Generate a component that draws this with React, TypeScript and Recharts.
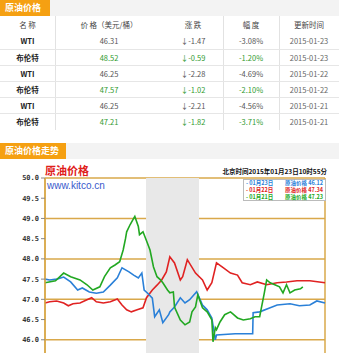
import React from 'react';
import { LineChart, Line, XAxis, YAxis, CartesianGrid, ReferenceArea } from 'recharts';

// table
const names = ['WTI', '布伦特', 'WTI', '布伦特', 'WTI', '布伦特'];
const prices = ['46.31', '48.52', '46.25', '47.57', '46.25', '47.21'];
const changes = ['↓-1.47', '↓-0.59', '↓-2.28', '↓-1.02', '↓-2.21', '↓-1.82'];
const pcts = ['-3.08%', '-1.20%', '-4.69%', '-2.10%', '-4.56%', '-3.71%'];
const dates = ['2015-01-23', '2015-01-23', '2015-01-22', '2015-01-22', '2015-01-21', '2015-01-21'];
const headers = ['名 称', '价 格（美元/桶）', '涨 跌', '幅 度', '更新时间'];

// chart (hours from start of window)
const hourTicks = [0, 1, 2, 3, 4, 5, 6, 7, 8, 9, 10, 11, 12];
const priceTicks = [46, 46.5, 47, 47.5, 48, 48.5, 49, 49.5, 50];

const blueTimes = [0, 0.2, 0.5, 0.8, 1.1, 1.4, 1.6, 1.9, 2.2, 2.5, 2.8, 3.1, 3.3, 3.6, 3.8, 4.0, 4.15, 4.25, 4.4, 4.6, 4.7, 4.9, 5.05, 5.3, 5.35, 5.55, 5.8, 6.0, 6.2, 6.5, 6.75, 6.95, 7.15, 7.3, 7.35, 8.15, 8.9, 8.92, 9.2, 9.65, 9.95, 10.5, 10.9, 11.35, 11.65, 12.0];
const blueValues = [47.5, 47.48, 47.5, 47.55, 47.43, 47.23, 47.28, 47.18, 47.15, 47.18, 47.35, 47.53, 47.78, 47.68, 47.6, 47.53, 47.65, 47.23, 47.15, 47.03, 46.57, 46.74, 46.42, 46.62, 46.69, 46.81, 47.04, 46.91, 46.99, 47.19, 46.86, 46.74, 46.54, 46.0, 46.12, 46.15, 46.15, 46.67, 46.69, 46.79, 46.86, 46.89, 46.84, 46.86, 46.96, 46.91];

const redTimes = [0, 0.2, 0.5, 0.8, 1.0, 1.2, 1.5, 1.8, 2.0, 2.2, 2.5, 2.8, 3.1, 3.3, 3.5, 3.7, 3.95, 4.2, 4.35, 4.6, 4.8, 5.0, 5.2, 5.35, 5.55, 5.8, 5.9, 6.1, 6.45, 6.75, 6.95, 7.15, 7.35, 7.65, 7.95, 8.25, 8.45, 8.8, 9.1, 9.5, 9.95, 10.35, 10.8, 11.35, 12.0];
const redValues = [46.91, 46.94, 46.96, 46.91, 46.84, 46.89, 46.91, 46.99, 47.04, 46.94, 46.91, 46.94, 47.01, 46.86, 46.74, 46.69, 46.74, 46.79, 47.04, 47.23, 47.35, 47.48, 47.68, 48.05, 47.9, 47.48, 47.56, 47.98, 47.65, 47.48, 47.23, 47.41, 47.9, 47.78, 47.65, 47.6, 47.41, 47.36, 47.43, 47.36, 47.41, 47.43, 47.46, 47.46, 47.41];

const greenTimes = [0, 0.45, 0.8, 1.1, 1.5, 1.8, 2.05, 2.35, 2.55, 2.8, 3.0, 3.2, 3.35, 3.45, 3.5, 3.65, 3.8, 3.85, 4.0, 4.05, 4.2, 4.35, 4.5, 4.65, 4.8, 4.95, 5.05, 5.25, 5.35, 5.5, 5.55, 5.8, 6.0, 6.2, 6.3, 6.45, 6.55, 6.75, 6.95, 7.15, 7.2, 7.3, 7.35, 7.5, 7.7, 7.95, 8.05, 8.25, 8.5, 8.8, 9.0, 9.2, 9.4, 9.5, 9.65, 9.85, 10.05, 10.2, 10.35, 10.5, 10.7, 10.95, 11.05];
const greenValues = [47.41, 47.46, 47.65, 47.56, 47.48, 47.36, 47.23, 47.31, 47.56, 47.78, 47.85, 47.93, 48.22, 48.5, 48.67, 48.85, 49.0, 49.05, 48.8, 48.6, 48.67, 48.45, 48.22, 47.8, 47.56, 47.48, 47.41, 47.23, 47.16, 47.18, 46.81, 46.49, 46.37, 46.44, 46.69, 46.81, 47.11, 46.79, 46.69, 46.49, 45.95, 46.3, 46.25, 46.44, 46.62, 46.69, 46.64, 46.54, 46.49, 46.52, 46.57, 46.57, 47.16, 47.48, 47.41, 47.36, 47.31, 47.16, 47.36, 47.16, 47.23, 47.26, 47.31];

const legendDates = ['01月23日', '01月22日', '01月21日'];
const legendNames = ['原油价格', '原油价格', '原油价格'];
const legendValues = ['46.12', '47.34', '47.23'];
const colors = ['#2a80d8', '#e02222', '#22a822'];

const toRows = (ts: number[], vs: number[]) => ts.map((t, i) => ({ t, v: vs[i] }));
const blue = toRows(blueTimes, blueValues);
const red = toRows(redTimes, redValues);
const green = toRows(greenTimes, greenValues);

const cjk = '"Noto Sans CJK SC", "DejaVu Sans", sans-serif';
const colX = [0, 55, 163, 223, 279, 339];

function SectionBar({ top, title, w }: { top: number; title: string; w: number }) {
  return (
    <div style={{ position: 'absolute', left: 0, top, width: 339, height: 16, background: '#f3f3f3' }}>
      <div style={{ width: w, height: 16, background: '#f5a012', color: '#fff', fontSize: 9, fontWeight: 'bold',
        lineHeight: '16px', paddingLeft: 5, boxSizing: 'border-box', fontFamily: cjk }}>{title}</div>
    </div>
  );
}

function LegendBox() {
  return (
    <div style={{ position: 'absolute', left: 243, top: 19, width: 83, height: 22, boxSizing: 'border-box', background: '#fff',
      border: '1px solid #bbb', padding: '0 2px', fontFamily: cjk, fontSize: 5.5, lineHeight: '7px', fontWeight: 'bold' }}>
      {legendDates.map((d, i) => (
        <div key={i} style={{ color: colors[i], whiteSpace: 'nowrap', display: 'flex', justifyContent: 'space-between' }}>
          <span>- {d}</span><span>{legendNames[i]} {legendValues[i]}</span>
        </div>
      ))}
    </div>
  );
}

export default function App() {
  const cell = (c: number, txt: string, color: string, bold = false) => (
    <div style={{ position: 'absolute', left: colX[c], width: colX[c + 1] - colX[c], textAlign: 'center', color,
      fontWeight: bold ? 'bold' : 'normal' }}>{txt}</div>
  );
  return (
    <div style={{ position: 'absolute', left: 0, top: 0, width: 339, height: 353, overflow: 'hidden', background: '#fff', fontFamily: cjk }}>
      <SectionBar top={0} title="原油价格" w={50} />
      <div style={{ position: 'absolute', left: 0, top: 16, width: 339, height: 114, fontSize: 7.5 }}>
        {[55, 223, 279].map((x) => (
          <div key={x} style={{ position: 'absolute', left: x, top: 0, width: 1, height: 114, background: '#e2e2e2' }} />
        ))}
        <div style={{ position: 'absolute', top: 3, left: 0, width: 339, height: 12, lineHeight: '12px' }}>
          {headers.map((h, i) => <React.Fragment key={i}>{cell(i, h, '#444')}</React.Fragment>)}
        </div>
        {names.map((n, r) => {
          const g = r % 2 === 1;
          const c = g ? '#2f9a2f' : '#555';
          return (
            <div key={r} style={{ position: 'absolute', top: 17 + r * 16, left: 0, width: 339, height: 16, lineHeight: '16px',
              borderTop: r > 0 ? '1px solid #e6e6e6' : 'none', boxSizing: 'border-box' }}>
              {cell(0, n, '#222', true)}
              {cell(1, prices[r], c)}
              {cell(2, changes[r], c)}
              {cell(3, pcts[r], c)}
              {cell(4, dates[r], '#666')}
            </div>
          );
        })}
      </div>
      <SectionBar top={143} title="原油价格走势" w={66} />
      <div style={{ position: 'absolute', left: 0, top: 160, width: 339, height: 220 }}>
        <LineChart width={339} height={220} margin={{ top: 18, right: 14, left: 0, bottom: 0 }}>
          <ReferenceArea x1={4.33} x2={6.6} y1={45.5} y2={50} fill="#e8e8e8" fillOpacity={1} stroke="none" />
          <CartesianGrid stroke="#d9a84a" strokeWidth={1.5} />
          <XAxis type="number" dataKey="t" domain={[0, 12]} ticks={hourTicks} allowDuplicatedCategory={false}
            height={20} tick={false} axisLine={false} tickLine={false} />
          <YAxis type="number" domain={[45.5, 50]} ticks={priceTicks} width={45} axisLine={{ stroke: '#d9a84a', strokeWidth: 1.5 }}
            tickLine={{ stroke: '#888' }} tickSize={4}
            tick={{ fontSize: 7, fill: '#333', fontWeight: 'bold', fontFamily: '"DejaVu Sans Mono", monospace' }}
            tickFormatter={(v: number) => v.toFixed(1)} />
          <Line data={red} dataKey="v" stroke={colors[1]} strokeWidth={1.6} dot={false} isAnimationActive={false} />
          <Line data={blue} dataKey="v" stroke={colors[0]} strokeWidth={1.6} dot={false} isAnimationActive={false} />
          <Line data={green} dataKey="v" stroke={colors[2]} strokeWidth={1.6} dot={false} isAnimationActive={false} />
        </LineChart>
        <LegendBox />
        <div style={{ position: 'absolute', left: 45, top: 2, color: '#e0201a', fontSize: 11, fontWeight: 'bold', fontFamily: cjk }}>原油价格</div>
        <div style={{ position: 'absolute', left: 47, top: 20, color: '#3a5acc', fontSize: 10, fontFamily: 'Arial, "Liberation Sans", sans-serif' }}>www.kitco.cn</div>
        <div style={{ position: 'absolute', right: 12, top: 6, color: '#111', fontSize: 6.5, fontWeight: 'bold', fontFamily: cjk }}>北京时间2015年01月23日10时55分</div>
      </div>
    </div>
  );
}
